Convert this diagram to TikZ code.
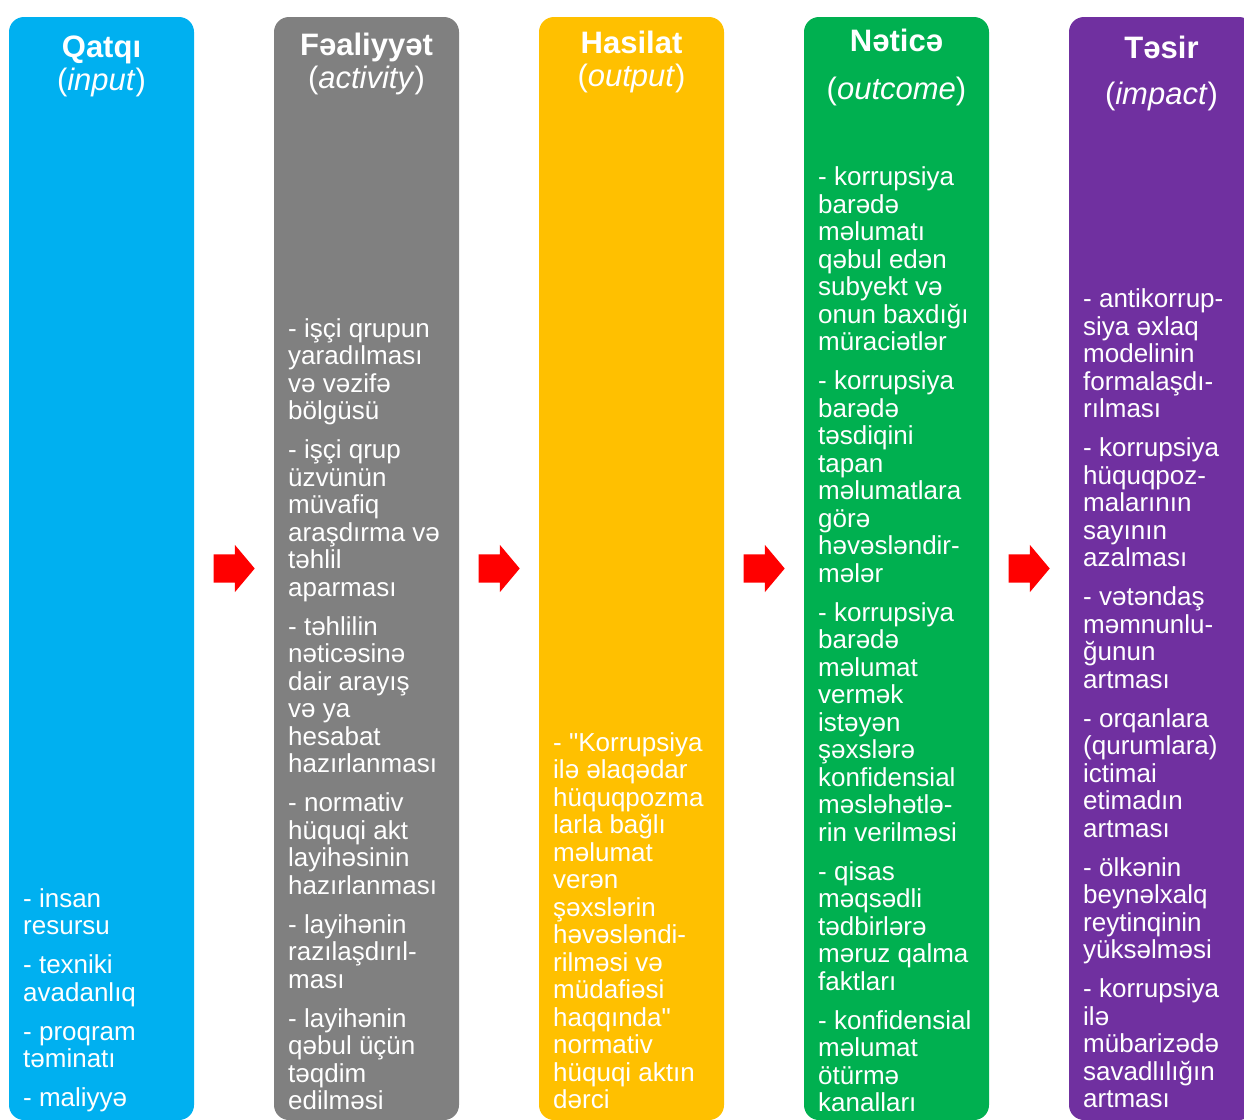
\documentclass[tikz,border=0pt]{standalone}
\usepackage{fontspec}
\setmainfont{Liberation Sans}
\usetikzlibrary{shapes.arrows, positioning}

\definecolor{inputblue}{HTML}{00B0F0}
\definecolor{activitygray}{HTML}{808080}
\definecolor{outputyellow}{HTML}{FFC000}
\definecolor{outcomegreen}{HTML}{00B050}
\definecolor{impactpurple}{HTML}{7030A0}

\tikzstyle{column} = [rectangle, rounded corners=15pt, minimum width=185pt, minimum height=1103pt, inner sep=0pt, outer sep=0pt]
\tikzstyle{heading} = [text=white, align=center, inner sep=0pt, anchor=north, font=\fontsize{31}{33}\selectfont]
\tikzstyle{items} = [text=white, align=left, inner sep=0pt, anchor=south west, font=\fontsize{26}{27.5}\selectfont]
\tikzset{
  flow/.style={
    single arrow,
    fill=red,
    draw=none,
    inner xsep=0pt,
    inner ysep=14pt,
    minimum height=41pt,
    minimum width=47pt,
    single arrow head extend=9.5pt,
    single arrow tip angle=100,
    single arrow head indent=0pt}
}
\newcommand{\itemgap}{\\[11.5pt]}

\begin{document}
\begin{tikzpicture}[node distance=80pt]
      \useasboundingbox (0pt,0pt) rectangle (1244pt,-1119pt);
      % Define the five columns
      \node (input) [column, fill=inputblue] at (101.5pt,-568.5pt) {};
      \node (activity) [column, fill=activitygray, right=of input] {};
      \node (output) [column, fill=outputyellow, right=of activity] {};
      \node (outcome) [column, fill=outcomegreen, right=of output] {};
      \node (impact) [column, fill=impactpurple, right=of outcome] {};

      % Red arrows between the columns
      \node (input_to_activity) [flow, right=19.5pt of input] {};
      \node (activity_to_output) [flow, right=19.5pt of activity] {};
      \node (output_to_outcome) [flow, right=19.5pt of output] {};
      \node (outcome_to_impact) [flow, right=19.5pt of outcome] {};

      % Headings
      \node (input_title) [heading] at ([yshift=-19pt]input.north) {\textbf{Qatqı}\\(\textit{input})};
      \node (activity_title) [heading] at ([yshift=-16pt]activity.north) {\textbf{Fəaliyyət}\\(\textit{activity})};
      \node (output_title) [heading] at ([yshift=-14pt]output.north) {\textbf{Hasilat}\\(\textit{output})};
      \node (outcome_title) [heading] at ([yshift=-12pt]outcome.north) {\textbf{Nəticə}\\[15pt](\textit{outcome})};
      \node (impact_title) [heading] at ([yshift=-19pt]impact.north) {\textbf{Təsir}\\[13pt](\textit{impact})};

      % Lists at the bottom of each column
      \node (input_items) [items] at ([xshift=14pt, yshift=5pt]input.south west) {%
        - insan\\resursu\itemgap
        - texniki\\avadanlıq\itemgap
        - proqram\\təminatı\itemgap
        - maliyyə\strut};
      \node (activity_items) [items] at ([xshift=14pt, yshift=2pt]activity.south west) {%
        - işçi qrupun\\yaradılması\\və vəzifə\\bölgüsü\itemgap
        - işçi qrup\\üzvünün\\müvafiq\\araşdırma və\\təhlil\\aparması\itemgap
        - təhlilin\\nəticəsinə\\dair arayış\\və ya\\hesabat\\hazırlanması\itemgap
        - normativ\\hüquqi akt\\layihəsinin\\hazırlanması\itemgap
        - layihənin\\razılaşdırıl-\\ması\itemgap
        - layihənin\\qəbul üçün\\təqdim\\edilməsi\strut};
      \node (output_items) [items] at ([xshift=14pt, yshift=3pt]output.south west) {%
        - \textquotedbl Korrupsiya\\ilə əlaqədar\\hüquqpozma\\larla bağlı\\məlumat\\verən\\şəxslərin\\həvəsləndi-\\rilməsi və\\müdafiəsi\\haqqında\textquotedbl\\normativ\\hüquqi aktın\\dərci\strut};
      \node (outcome_items) [items] at ([xshift=14pt, yshift=0pt]outcome.south west) {%
        - korrupsiya\\barədə\\məlumatı\\qəbul edən\\subyekt və\\onun baxdığı\\müraciətlər\itemgap
        - korrupsiya\\barədə\\təsdiqini\\tapan\\məlumatlara\\görə\\həvəsləndir-\\mələr\itemgap
        - korrupsiya\\barədə\\məlumat\\vermək\\istəyən\\şəxslərə\\konfidensial\\məsləhətlə-\\rin verilməsi\itemgap
        - qisas\\məqsədli\\tədbirlərə\\məruz qalma\\faktları\itemgap
        - konfidensial\\məlumat\\ötürmə\\kanalları\strut};
      \node (impact_items) [items] at ([xshift=14pt, yshift=4pt]impact.south west) {%
        - antikorrup-\\siya əxlaq\\modelinin\\formalaşdı-\\rılması\itemgap
        - korrupsiya\\hüquqpoz-\\malarının\\sayının\\azalması\itemgap
        - vətəndaş\\məmnunlu-\\ğunun\\artması\itemgap
        - orqanlara\\(qurumlara)\\ictimai\\etimadın\\artması\itemgap
        - ölkənin\\beynəlxalq\\reytinqinin\\yüksəlməsi\itemgap
        - korrupsiya\\ilə\\mübarizədə\\savadlılığın\\artması\strut};
    \end{tikzpicture}
\end{document}
